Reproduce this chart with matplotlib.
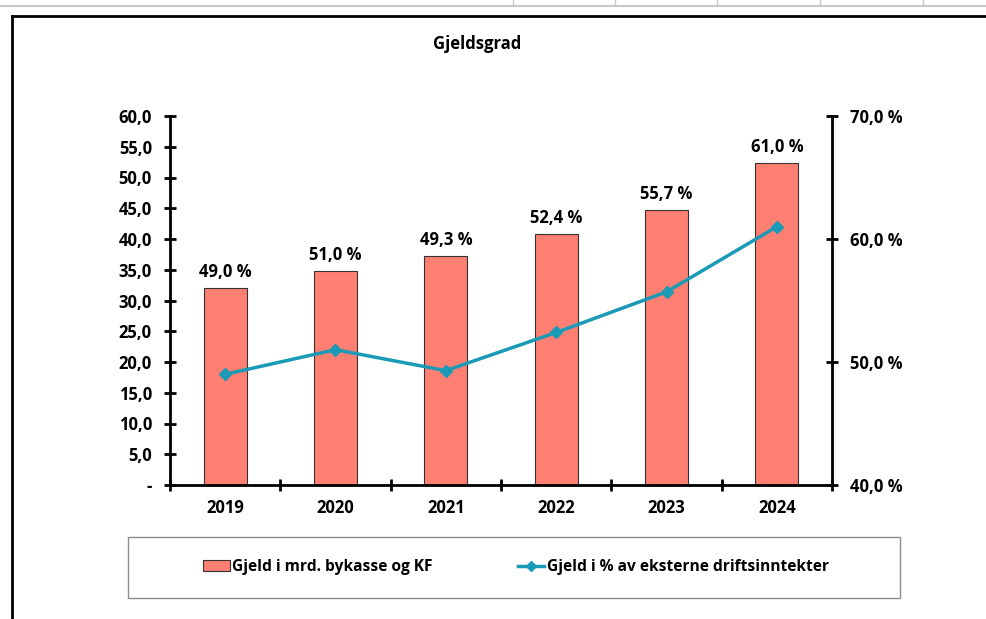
import matplotlib
matplotlib.use("Agg")
import matplotlib.pyplot as plt
from matplotlib.lines import Line2D
from matplotlib.patches import Rectangle, Patch

years = ["2019", "2020", "2021", "2022", "2023", "2024"]
debt_bn = [32.0, 34.8, 37.3, 40.8, 44.7, 52.4]
debt_pct = [49.0, 51.0, 49.3, 52.4, 55.7, 61.0]
left_ticks = [0, 5, 10, 15, 20, 25, 30, 35, 40, 45, 50, 55, 60]
right_ticks = [40, 50, 60, 70]

BAR = "#FF8072"
LINE = "#1A9AB6"
FONT = ["Open Sans", "DejaVu Sans"]
plt.rcParams['font.family'] = FONT
FS = 12

W, H = 987, 619
fig = plt.figure(figsize=(W / 100, H / 100), dpi=100)

# spreadsheet background lines
fig.add_artist(Line2D([0, 1], [1 - 6 / H, 1 - 6 / H], color="#c8c8c8", lw=1.5))
for x in [513, 615, 717, 820, 923]:
    fig.add_artist(Line2D([x / W, x / W], [1, 1 - 6 / H], color="#c8c8c8", lw=1))
# chart frame
fig.add_artist(Line2D([12 / W, 1], [1 - 16 / H, 1 - 16 / H], color="black", lw=2))
fig.add_artist(Line2D([12 / W, 12 / W], [0, 1 - 16 / H], color="black", lw=2))

ax = fig.add_axes([170 / W, 1 - 485 / H, (832 - 170) / W, (485 - 116) / H])
ax2 = ax.twinx()

x = list(range(len(years)))
ax.bar(x, debt_bn, width=0.39, color=BAR, edgecolor="#333333", linewidth=0.8, zorder=2)
ax.set_xlim(-0.5, len(years) - 0.5)
ax.set_ylim(0, 60)
ax.set_yticks(left_ticks)
ax.set_yticklabels(["-" if v == 0 else f"{v:.1f}".replace(".", ",") for v in left_ticks],
                   fontsize=FS, fontweight="bold")
ax.set_xticks(x)
ax.set_xticklabels(years, fontsize=FS, fontweight="bold")
ax.set_xticks([i - 0.5 for i in range(len(years) + 1)], minor=True)
ax.tick_params(axis="x", which="major", length=0, pad=10)
ax.tick_params(axis="x", which="minor", length=8, width=2, direction="inout")
ax.tick_params(axis="y", length=8, width=2, direction="inout", pad=9)

for s in ["top", "right"]:
    ax.spines[s].set_visible(False)
for s in ["left", "bottom"]:
    ax.spines[s].set_linewidth(2)

for xi, b, p in zip(x, debt_bn, debt_pct):
    ax.annotate(f"{p:.1f} %".replace(".", ","), (xi, b), xytext=(0, 5),
                textcoords="offset points", ha="center", va="bottom",
                fontsize=FS, fontweight="bold")

ax2.plot(x, debt_pct, color=LINE, lw=2.5, marker="D", markersize=6, zorder=3)
ax2.set_ylim(40, 70)
ax2.set_yticks(right_ticks)
ax2.set_yticklabels([f"{v:.1f} %".replace(".", ",") for v in right_ticks],
                    fontsize=FS, fontweight="bold")
ax2.tick_params(axis="y", length=8, width=2, direction="inout", pad=9)
for s in ["top", "left", "bottom"]:
    ax2.spines[s].set_visible(False)
ax2.spines["right"].set_linewidth(2)

fig.text(477 / W, 1 - 44 / H, "Gjeldsgrad", ha="center", va="center",
         fontsize=FS, fontweight="bold")

# legend box
fig.add_artist(Rectangle((128 / W, 1 - 598 / H), (900 - 128) / W, (598 - 537) / H,
                         transform=fig.transFigure, fill=False, edgecolor="#8c8c8c", lw=1))
handles = [Patch(facecolor=BAR, edgecolor="#333333", linewidth=0.8),
           Line2D([], [], color=LINE, lw=2.5, marker="D", markersize=5)]
labels = ["Gjeld i mrd. bykasse og KF", "Gjeld i % av eksterne driftsinntekter"]
fig.legend(handles, labels, loc="center", bbox_to_anchor=(516 / W, 1 - 567 / H),
           ncol=2, frameon=False, prop={"weight": "bold", "size": 11.2},
           columnspacing=5.5, handlelength=1.7, handletextpad=0.15)

fig.savefig("out.png", dpi=100)
